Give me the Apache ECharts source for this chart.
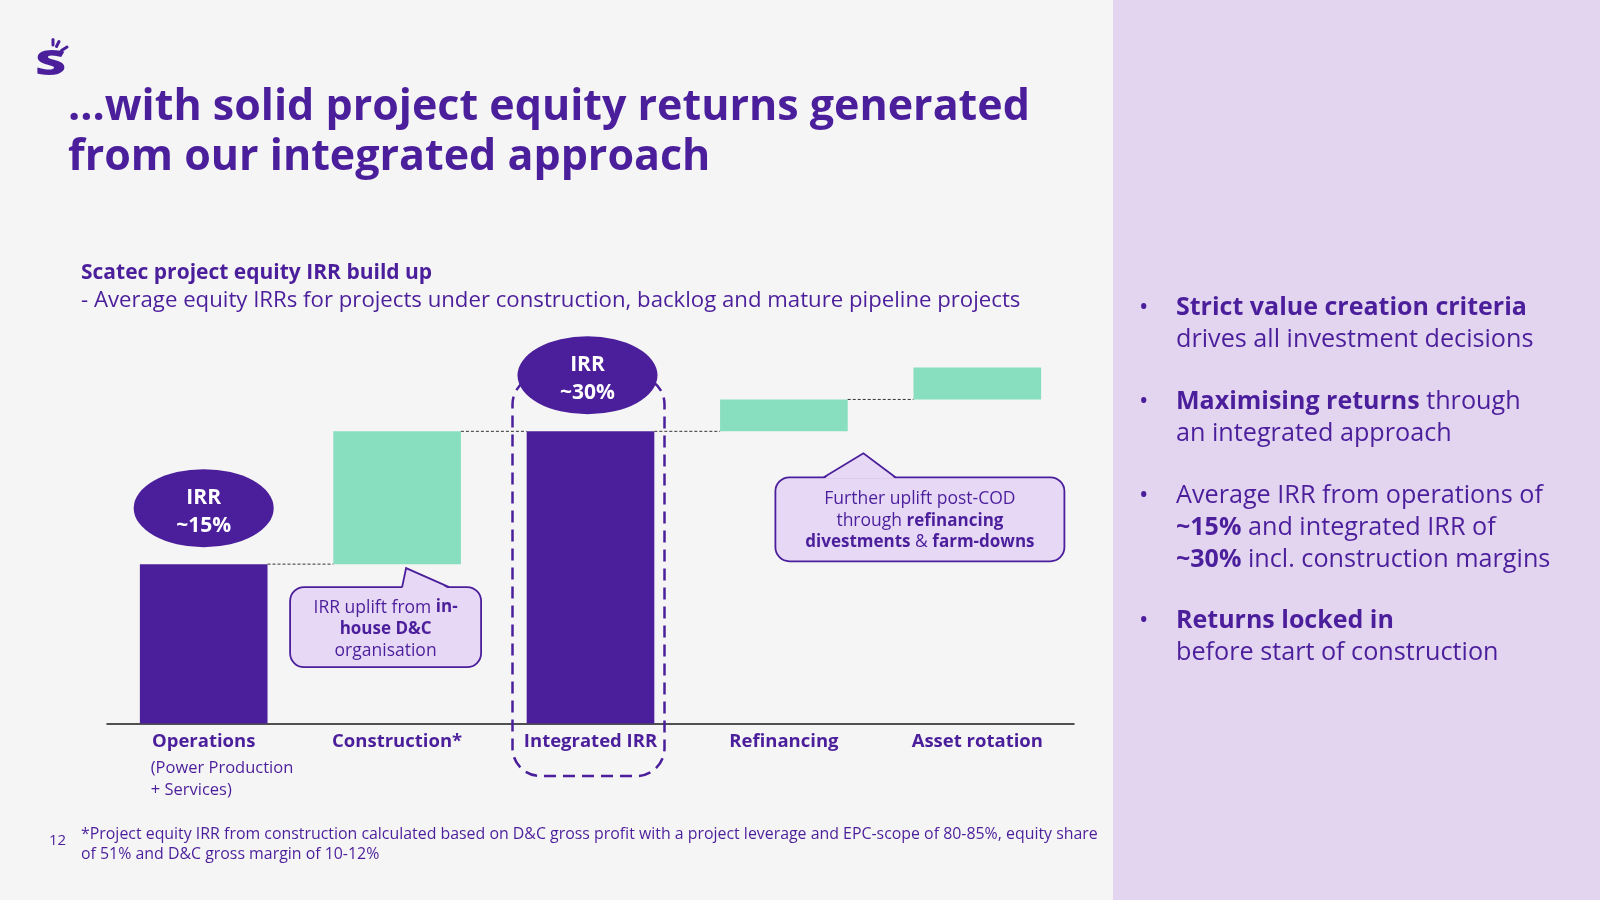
<!DOCTYPE html>
<html>
<head>
<meta charset="utf-8">
<script src="https://cdn.jsdelivr.net/npm/echarts@6/dist/echarts.min.js"></script>
<style>
  html, body { margin: 0; padding: 0; background: #F5F5F5; }
  #chart { width: 1600px; height: 900px; }
</style>
</head>
<body>
<div id="chart"></div>
<script>
// ---- Data ----
const categories = ['Operations', 'Construction*', 'Integrated IRR', 'Refinancing', 'Asset rotation'];
const baseValues = [0, 15, 0, 27.5, 30.5];      // invisible offset of each waterfall step
const stepValues = [15, 12.5, 27.5, 3, 3];      // visible height of each step
const stepKinds = ['total', 'uplift', 'total', 'uplift', 'uplift'];
const irrLabels = ['~15%', null, '~30%', null, null];
const subLabels = ['(Power Production\n+ Services)', null, null, null, null];

// ---- Style ----
const PURPLE = '#4B1E9B';
const GREEN = '#88DFC0';
const FONT = '"Open Sans", Lato, sans-serif';
const CALLOUT_FILL = '#E7D9F6';

const chart = echarts.init(document.getElementById('chart'), null, { renderer: 'canvas' });

function calloutShape(tip, baseL, baseR, box, text, textY) {
  return [
    { type: 'rect', shape: { x: box.x, y: box.y, width: box.w, height: box.h, r: 14 },
      style: { fill: CALLOUT_FILL, stroke: PURPLE, lineWidth: 1.8 } },
    { type: 'polygon', shape: { points: [[baseL, box.y + 1.5], tip, [baseR, box.y + 1.5]] },
      style: { fill: CALLOUT_FILL } },
    { type: 'polyline', shape: { points: [[baseL, box.y], tip, [baseR, box.y]] },
      style: { fill: 'none', stroke: PURPLE, lineWidth: 1.8 } },
    { type: 'text', x: box.x + box.w / 2, y: textY,
      style: {
        text: text, align: 'center', verticalAlign: 'middle', lineHeight: 21.5,
        fontFamily: FONT, fontSize: 17.5, fill: PURPLE,
        rich: {
          r: { fontFamily: FONT, fontSize: 17.5, fill: PURPLE, align: 'center', lineHeight: 21.5 },
          b: { fontFamily: FONT, fontSize: 17, fontWeight: 'bold', fill: PURPLE, align: 'center', lineHeight: 21.5 }
        }
      } }
  ];
}

function renderConnector(params, api) {
  const i = api.value(0);
  const top = baseValues[i] + stepValues[i];
  const p1 = api.coord([i, top]);
  const p2 = api.coord([i + 1, top]);
  const half = api.size([1, 0])[0] * 0.66 / 2;
  return {
    type: 'line',
    shape: { x1: p1[0] + half, y1: p1[1], x2: p2[0] - half, y2: p2[1] },
    style: { stroke: '#333333', lineWidth: 1, lineDash: [3, 2] }
  };
}

function renderAnnotations(params, api) {
  const children = [];
  const axisY = api.coord([0, 0])[1];

  // dashed frame around Integrated IRR
  const integ = api.coord([2, baseValues[2] + stepValues[2]]);
  children.push({
    type: 'rect',
    shape: { x: integ[0] - 78, y: integ[1] - 55, width: 152, height: axisY + 52.5 - (integ[1] - 55), r: 28 },
    style: { fill: 'none', stroke: PURPLE, lineWidth: 2.5, lineDash: [12, 7] }
  });

  // IRR ellipses
  irrLabels.forEach(function (lab, i) {
    if (!lab) return;
    const p = api.coord([i, baseValues[i] + stepValues[i]]);
    const cx = p[0] - (i === 2 ? 3 : 0), cy = p[1] - 56;
    children.push({
      type: 'circle', x: cx, y: cy, scaleY: 39 / 70,
      shape: { cx: 0, cy: 0, r: 70 }, style: { fill: PURPLE }
    });
    children.push({
      type: 'text', x: cx, y: cy + 3.5,
      style: {
        text: 'IRR\n' + lab, align: 'center', verticalAlign: 'middle',
        fontFamily: FONT, fontSize: 21, fontWeight: 'bold', fill: '#FFFFFF', lineHeight: 28
      }
    });
  });

  // sub labels under categories
  subLabels.forEach(function (lab, i) {
    if (!lab) return;
    const p = api.coord([i, 0]);
    children.push({
      type: 'text', x: p[0] - 53, y: axisY + 33.5,
      style: { text: lab, align: 'left', verticalAlign: 'top', lineHeight: 22,
        fontFamily: FONT, fontSize: 16.5, fill: PURPLE }
    });
  });

  // callout under Construction
  const c = api.coord([1, baseValues[1]]);
  children.push.apply(children, calloutShape(
    [c[0] + 9, c[1] + 4], c[0] + 5, c[0] + 52,
    { x: c[0] - 107, y: c[1] + 23, w: 191, h: 80 },
    '{r|IRR uplift from }{b|in-}\n{b|house D&C}\n{r|organisation}',
    c[1] + 65));

  // callout under Refinancing
  const r = api.coord([3, baseValues[3]]);
  children.push.apply(children, calloutShape(
    [r[0] + 79.5, r[1] + 22], r[0] + 40, r[0] + 111.5,
    { x: r[0] - 8.5, y: r[1] + 46, w: 289, h: 84 },
    '{r|Further uplift post-COD}\n{r|through }{b|refinancing}\n{b|divestments}{r| & }{b|farm-downs}',
    r[1] + 89.5));

  return { type: 'group', children: children };
}

const bulletRich = {
  r: { fontFamily: FONT, fontSize: 25.2, fill: PURPLE, lineHeight: 32 },
  b: { fontFamily: FONT, fontSize: 25, fontWeight: 'bold', fill: PURPLE, lineHeight: 32 }
};
const bullets = [
  { y: 292, text: '{b|Strict value creation criteria}\n{r|drives all investment decisions}' },
  { y: 386, text: '{b|Maximising returns}{r| through}\n{r|an integrated approach}' },
  { y: 480, text: '{r|Average IRR from operations of}\n{b|~15%}{r| and integrated IRR of}\n{b|~30%}{r| incl. construction margins}' },
  { y: 605, text: '{b|Returns locked in}\n{r|before start of construction}' }
];

const graphics = [
  { type: 'rect', left: 1113, top: 0, shape: { width: 487, height: 900 }, style: { fill: '#E3D5F0' }, z: -10 },
  // logo
  { type: 'text', x: 35, y: 47, scaleX: 1.5, style: { text: 'S', fontFamily: FONT, fontSize: 36, fontWeight: 900, fill: PURPLE } },
  { type: 'line', shape: { x1: 53, y1: 39.5, x2: 53, y2: 45 }, style: { stroke: PURPLE, lineWidth: 3, lineCap: 'round' } },
  { type: 'line', shape: { x1: 59, y1: 41.5, x2: 56.5, y2: 46.5 }, style: { stroke: PURPLE, lineWidth: 3, lineCap: 'round' } },
  { type: 'line', shape: { x1: 67, y1: 47, x2: 61.5, y2: 50.5 }, style: { stroke: PURPLE, lineWidth: 3, lineCap: 'round' } },
  // title
  { type: 'text', left: 68, top: 83, style: {
      text: '...with solid project equity returns generated\nfrom our integrated approach',
      fontFamily: FONT, fontSize: 43, fontWeight: 'bold', fill: PURPLE, lineHeight: 50 } },
  // chart subtitle
  { type: 'text', left: 81, top: 259, style: {
      text: '{b|Scatec project equity IRR build up}\n{r|- Average equity IRRs for projects under construction, backlog and mature pipeline projects}',
      lineHeight: 28,
      rich: {
        b: { fontFamily: FONT, fontSize: 21, fontWeight: 'bold', fill: PURPLE, lineHeight: 28 },
        r: { fontFamily: FONT, fontSize: 22.2, fill: PURPLE, lineHeight: 28 }
      } } },
  // footnote
  { type: 'text', left: 49, top: 833, style: { text: '12', fontFamily: FONT, fontSize: 15, fill: PURPLE } },
  { type: 'text', left: 81, top: 824, style: {
      text: '*Project equity IRR from construction calculated based on D&C gross profit with a project leverage and EPC-scope of 80-85%, equity share\nof 51% and D&C gross margin of 10-12%',
      fontFamily: FONT, fontSize: 15.9, fill: PURPLE, lineHeight: 20 } }
];
bullets.forEach(function (b) {
  graphics.push({ type: 'text', left: 1139, top: b.y, style: { text: '•', fontFamily: FONT, fontSize: 25, fill: PURPLE, lineHeight: 32 } });
  graphics.push({ type: 'text', left: 1176, top: b.y, style: { text: b.text, rich: bulletRich, lineHeight: 32 } });
});

const option = {
  backgroundColor: '#F5F5F5',
  animation: false,
  grid: { left: 107, right: 526, top: 298.5, bottom: 176.5, containLabel: false },
  xAxis: {
    type: 'category', data: categories,
    axisLine: { show: true, lineStyle: { color: '#1A1A1A', width: 1.5 } },
    axisTick: { show: false },
    splitLine: { show: false },
    axisLabel: { interval: 0, color: PURPLE, fontFamily: FONT, fontSize: 18.5, fontWeight: 'bold', margin: 9 }
  },
  yAxis: { type: 'value', min: 0, max: 40, show: false, splitLine: { show: false } },
  graphic: graphics,
  series: [
    {
      type: 'bar', stack: 'w', barWidth: '66%', silent: true,
      itemStyle: { color: 'transparent' },
      data: baseValues
    },
    {
      type: 'bar', stack: 'w', barWidth: '66%',
      data: stepValues.map(function (v, i) {
        return { value: v, itemStyle: { color: stepKinds[i] === 'total' ? PURPLE : GREEN } };
      })
    },
    {
      type: 'custom', renderItem: renderConnector, clip: false, silent: true,
      data: [[0], [1], [2], [3]], encode: { x: 0 }, z: 3
    },
    {
      type: 'custom', renderItem: renderAnnotations, clip: false, silent: true,
      data: [[0]], encode: { x: 0 }, z: 5
    }
  ]
};
chart.setOption(option);
</script>
</body>
</html>
